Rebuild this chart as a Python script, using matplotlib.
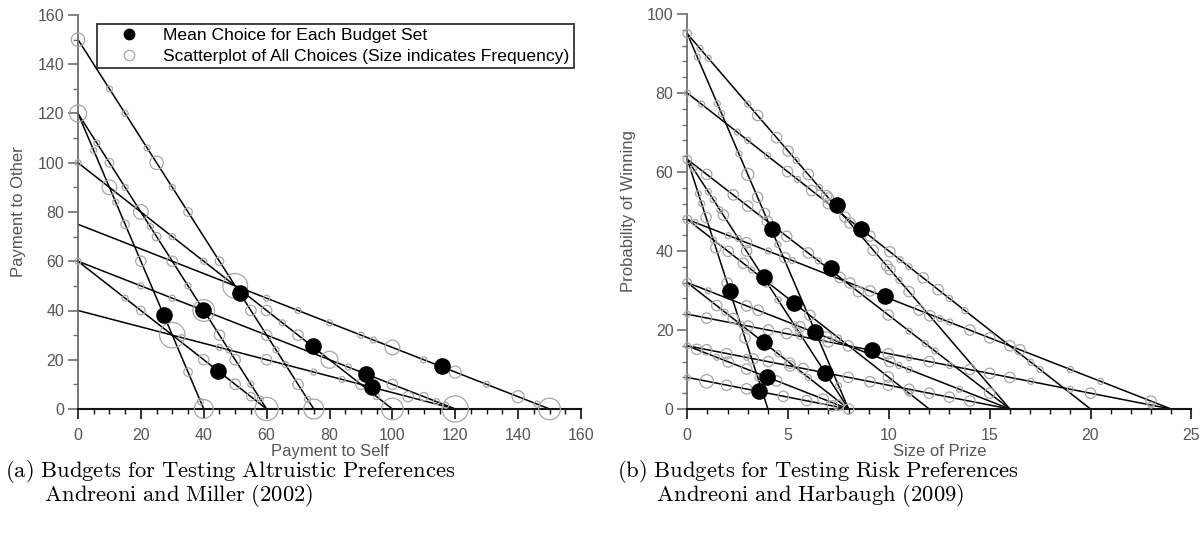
import numpy as np
import matplotlib.pyplot as plt
from matplotlib.ticker import MultipleLocator
from matplotlib.lines import Line2D

plt.rcParams['font.family'] = ['Liberation Sans', 'DejaVu Sans']
plt.rcParams['mathtext.fontset'] = 'cm'

# ---- (a) Andreoni and Miller (2002): budget lines (intercepts) ----
am_self_max = [75, 40, 60, 100, 150, 60, 120, 120]
am_other_max = [150, 120, 120, 100, 75, 60, 60, 40]

# mean choice for each budget
am_mean_self = [51.5, 27.4, 39.8, 74.8, 115.9, 44.6, 91.6, 93.4]
am_mean_other = [47.2, 38, 40.1, 25.4, 17.3, 15.6, 14.3, 8.9]

# all choices (self, other, frequency)
am_self = [0, 0, 0, 0, 10, 15, 22, 25, 30, 35, 6, 5, 10, 10, 15, 12, 20, 15, 23, 25,
           30, 20, 30, 40, 45, 50, 15, 20, 30, 35, 20, 40, 30, 33, 55, 45, 45, 48, 35, 40,
           50, 50, 55, 55, 58, 39, 40, 60, 60, 60, 60, 60, 65, 63, 66, 70, 70, 70, 73, 75,
           75, 80, 80, 84, 86, 90, 94, 90, 95, 100, 100, 100, 105, 110, 110, 114, 117, 120,
           120, 130, 140, 146, 150]
am_other = [150, 120, 100, 60, 130, 120, 106, 100, 90, 80, 108, 105, 100, 90, 90, 84, 80, 75, 74, 70,
            70, 60, 60, 60, 60, 50, 45, 50, 45, 50, 40, 40, 30, 29, 40, 30, 25, 24, 15, 20,
            20, 10, 10, 5, 4, 3, 0, 0, 45, 40, 30, 20, 35, 24, 18, 40, 30, 10, 4, 0,
            15, 35, 20, 12, 17, 30, 28, 10, 5, 25, 10, 0, 5, 5, 20, 3, 1.5, 15,
            0, 10, 5, 2, 0]
am_freq = [5, 8, 1, 1, 1, 1, 1, 5, 1, 2, 1, 1, 2, 6, 1, 1, 6, 2, 1, 2,
           1, 3, 3, 1, 2, 17, 1, 1, 1, 1, 2, 13, 18, 1, 3, 3, 1, 1, 2, 3,
           3, 3, 1, 2, 1, 1, 10, 15, 1, 3, 3, 3, 1, 1, 1, 1, 3, 3, 1, 11,
           1, 1, 8, 1, 1, 1, 1, 3, 1, 6, 3, 13, 3, 2, 1, 1, 1, 4,
           19, 1, 4, 1, 13]

# ---- (b) Andreoni and Harbaugh (2009): budget lines (intercepts) ----
ah_prize_max = [16, 8, 20, 16, 8, 4, 12, 24, 16, 8, 24, 8, 16, 8]
ah_prob_max = [95, 95, 80, 63.2, 63.2, 63.2, 48, 48, 32, 32, 24, 16, 16, 8]

ah_mean_prize = [7.41, 8.63, 4.21, 7.12, 3.82, 9.82, 2.10, 5.29, 6.35, 3.80, 9.16, 3.94, 6.84, 3.54]
ah_mean_prob = [51.6, 45.6, 45.5, 35.6, 33.5, 28.6, 30.0, 26.9, 19.5, 16.9, 14.9, 8.2, 9.2, 4.6]

ah_prize = [0, 0.63, 1.04, 3.0, 3.49, 4.43, 5.0, 5.4, 6.0, 6.55, 6.91, 7.0, 7.82, 8.07, 9.22, 9.89,
            10.05, 10.5, 11.0, 12.03,
            0.5, 1.49, 1.7, 2.56, 3.0, 3.49, 3.83, 4.5, 7.5,
            0, 0.71, 2.48, 3.0, 3.98, 4.97, 5.47, 6.17, 6.99, 9.06, 10.05, 10.55, 11.0, 11.7,
            12.44, 13.0, 13.77, 16.0, 17.04, 17.5,
            0, 0.96, 2.28, 3.0, 3.97, 4.93, 6.0, 6.5, 7.57, 8.48, 9.97, 11.0, 11.8, 12.28, 15.0,
            0.3, 1.04, 1.29, 1.62, 1.79, 2.53, 2.94, 4.5, 5.5,
            0.55, 0.71, 0.93, 1.42, 1.98, 2.86, 3.5,
            0, 1.29, 2.03, 2.78, 3.19, 3.94, 6.08, 7.49, 9.97, 11.0,
            0.38, 2.03, 2.94, 4.02, 4.84, 5.2, 8.07, 9.06, 11.5, 12.53, 13.02, 14.02, 15.0, 16.5,
            19.0, 20.5, 23.0,
            0, 1.04, 2.94, 3.52, 5.34, 5.59, 6.91, 7.98, 10.05, 10.5, 11.0, 13.5,
            1.46, 1.87, 2.28, 4.5, 5.09, 6.0,
            0, 0.96, 2.7, 3.02, 4.02, 4.93, 5.59, 6.99, 9.97, 11.0, 12.0, 13.02, 14.02, 15.0,
            16.0, 17.04, 19.0, 20.0, 23.0,
            0.47, 1.46, 2.03, 2.94, 4.43, 6.74, 7.5,
            0, 0.96, 1.95, 2.94, 3.27, 4.02, 5.09, 5.75, 7.98, 9.06, 9.97, 11.0, 12.0, 13.0, 14.02,
            0, 0.96, 1.95, 2.94, 4.76, 5.92, 7.2, 8.0]
ah_prob = [95, 91.3, 88.8, 77.2, 74.3, 68.7, 65.3, 62.9, 59.4, 56.1, 54.0, 53.4, 48.6, 47.1, 40.2, 36.3,
           35.3, 32.6, 29.7, 23.6,
           89.1, 77.3, 74.8, 64.6, 59.4, 53.6, 49.5, 41.6, 5.9,
           80, 77.2, 70.1, 68, 64.1, 60.1, 58.1, 55.3, 52.0, 43.8, 39.8, 37.8, 36, 33.2,
           30.2, 28, 24.9, 16.0, 11.8, 10,
           63.2, 59.4, 54.2, 51.35, 47.5, 43.7, 39.5, 37.5, 33.3, 29.7, 23.8, 19.7, 16.6, 14.7, 4.0,
           60.8, 55, 53, 50.4, 49.1, 43.2, 40, 27.6, 19.7,
           54.5, 52, 48.5, 40.8, 31.9, 18, 7.9,
           48, 42.8, 39.9, 36.9, 35.2, 32.2, 23.7, 18, 8.1, 4,
           47.2, 43.9, 42.1, 40, 38.3, 37.6, 31.9, 29.9, 25, 22.9, 22, 20, 18, 15,
           10, 7, 2,
           32, 29.9, 26.1, 25, 21.3, 20.8, 18.2, 16, 12, 11, 10, 5,
           26.2, 24.5, 22.9, 14, 11.6, 8,
           24, 23, 21.3, 21, 20, 19.1, 18.4, 17, 14, 13, 12, 11, 10, 9,
           8, 7, 5, 4, 1,
           15.1, 13.1, 11.9, 10.1, 7.1, 2.5, 1,
           16, 15, 14, 13.1, 12.7, 12, 10.9, 10.25, 8, 6.9, 6, 5, 4, 3, 2,
           8, 7, 6, 5.1, 3.2, 2.1, 0.8, 0]
ah_freq = [2, 1, 1, 1, 3, 3, 3, 1, 3, 1, 3, 3, 3, 3, 3, 3,
           3, 1, 3, 3,
           1, 1, 1, 1, 4, 3, 3, 1, 1,
           1, 1, 1, 1, 1, 3, 1, 3, 3, 3, 3, 1, 1, 3,
           3, 1, 1, 3, 1, 1,
           2, 3, 3, 3, 3, 3, 3, 1, 3, 3, 3, 1, 1, 1, 3,
           1, 1, 1, 1, 3, 1, 3, 1, 1,
           1, 1, 3, 3, 3, 3, 1,
           2, 1, 3, 3, 1, 3, 3, 1, 3, 1,
           1, 1, 3, 1, 3, 1, 3, 3, 3, 1, 1, 3, 3, 3,
           1, 1, 3,
           2, 1, 3, 3, 1, 3, 3, 3, 3, 1, 1, 1,
           3, 1, 3, 1, 3, 1,
           1, 3, 1, 3, 3, 3, 1, 3, 3, 1, 3, 1, 3, 3,
           3, 1, 1, 3, 1,
           3, 1, 3, 3, 3, 3, 3,
           1, 3, 3, 1, 3, 3, 3, 3, 3, 3, 3, 3, 3, 3, 3,
           1, 5, 3, 3, 3, 3, 3, 3]

GREY = '#a6a6a6'
LABEL = '#555555'


def freq_size(n):
    return (6.0 * np.sqrt(np.asarray(n, dtype=float)) * 0.72) ** 2


def style_axis(ax, xmaj, xmin, ymaj, ymin):
    for s in ('top', 'right'):
        ax.spines[s].set_visible(False)
    ax.spines['left'].set_color('#6e6e6e')
    ax.spines['bottom'].set_color('#111111')
    ax.spines['left'].set_linewidth(1.3)
    ax.spines['bottom'].set_linewidth(1.5)
    ax.xaxis.set_major_locator(MultipleLocator(xmaj))
    ax.xaxis.set_minor_locator(MultipleLocator(xmin))
    ax.yaxis.set_major_locator(MultipleLocator(ymaj))
    ax.yaxis.set_minor_locator(MultipleLocator(ymin))
    ax.tick_params(axis='both', which='both', direction='out', labelsize=11.5, labelcolor=LABEL)
    ax.tick_params(axis='both', which='major', length=7, width=1.2)
    ax.tick_params(axis='both', which='minor', length=3.5, width=1.0)
    ax.tick_params(axis='y', which='both', color='#6e6e6e', pad=3)
    ax.tick_params(axis='x', which='both', color='#111111', pad=6.5)


fig = plt.figure(figsize=(12.03, 5.41), dpi=100)
ax1 = fig.add_axes([78 / 1203, 132 / 541, 503 / 1203, 394 / 541])
ax2 = fig.add_axes([687.3 / 1203, 132 / 541, 504 / 1203, 395 / 541])

# panel (a)
for sm, om in zip(am_self_max, am_other_max):
    ax1.plot([0, sm], [om, 0], color='black', lw=1.1, zorder=2, clip_on=False)
ax1.scatter(am_self, am_other, s=freq_size(am_freq), facecolors='none', edgecolors=GREY,
            linewidths=0.9, zorder=3, clip_on=False)
ax1.scatter(am_mean_self, am_mean_other, s=120, color='black', zorder=4, clip_on=False)
ax1.set_xlim(0, 160)
ax1.set_ylim(0, 160)
style_axis(ax1, 20, 5, 20, 10)
ax1.set_xlabel('Payment to Self', fontsize=12, color=LABEL, labelpad=1)
ax1.set_ylabel('Payment to Other', fontsize=12, color=LABEL, labelpad=8)

handles = [Line2D([], [], marker='o', ls='none', color='black', markersize=7.5),
           Line2D([], [], marker='o', ls='none', markerfacecolor='none',
                  markeredgecolor=GREY, markeredgewidth=0.9, markersize=7.5)]
leg = ax1.legend(handles, ['Mean Choice for Each Budget Set',
                           'Scatterplot of All Choices (Size indicates Frequency)'],
                 loc='upper left', bbox_to_anchor=(0.037, 0.978), fancybox=False,
                 edgecolor='black', fontsize=12.6, borderpad=0.22, handletextpad=0.3,
                 labelspacing=0.35, handlelength=3.3, borderaxespad=0)
leg.get_frame().set_linewidth(1.3)
leg.set_zorder(5)

# panel (b)
for px, pp in zip(ah_prize_max, ah_prob_max):
    ax2.plot([0, px], [pp, 0], color='black', lw=1.1, zorder=2, clip_on=False)
ax2.scatter(ah_prize, ah_prob, s=freq_size(ah_freq), facecolors='none', edgecolors=GREY,
            linewidths=0.9, zorder=3, clip_on=False)
ax2.scatter(ah_mean_prize, ah_mean_prob, s=120, color='black', zorder=4, clip_on=False)
ax2.set_xlim(0, 25)
ax2.set_ylim(0, 100)
style_axis(ax2, 5, 1, 20, 4)
ax2.set_xlabel('Size of Prize', fontsize=12, color=LABEL, labelpad=1)
ax2.set_ylabel('Probability of Winning', fontsize=12, color=LABEL, labelpad=8)

# captions (two lines each, second line indented)
cap_a = (r'$\mathrm{(a)\ Budgets\ for\ Testing\ Altruistic\ Preferences}$' + '\n'
         + r'$\qquad\mathrm{Andreoni\ and\ Miller\ (2002)}$')
cap_b = (r'$\mathrm{(b)\ Budgets\ for\ Testing\ Risk\ Preferences}$' + '\n'
         + r'$\qquad\mathrm{Andreoni\ and\ Harbaugh\ (2009)}$')
fig.text(5 / 1203, 1 - 458 / 541, cap_a, fontsize=16.3, va='top', ha='left',
         multialignment='left', linespacing=0.85)
fig.text(617 / 1203, 1 - 458 / 541, cap_b, fontsize=16.3, va='top', ha='left',
         multialignment='left', linespacing=0.85)

fig.savefig('out.png', dpi=100)
